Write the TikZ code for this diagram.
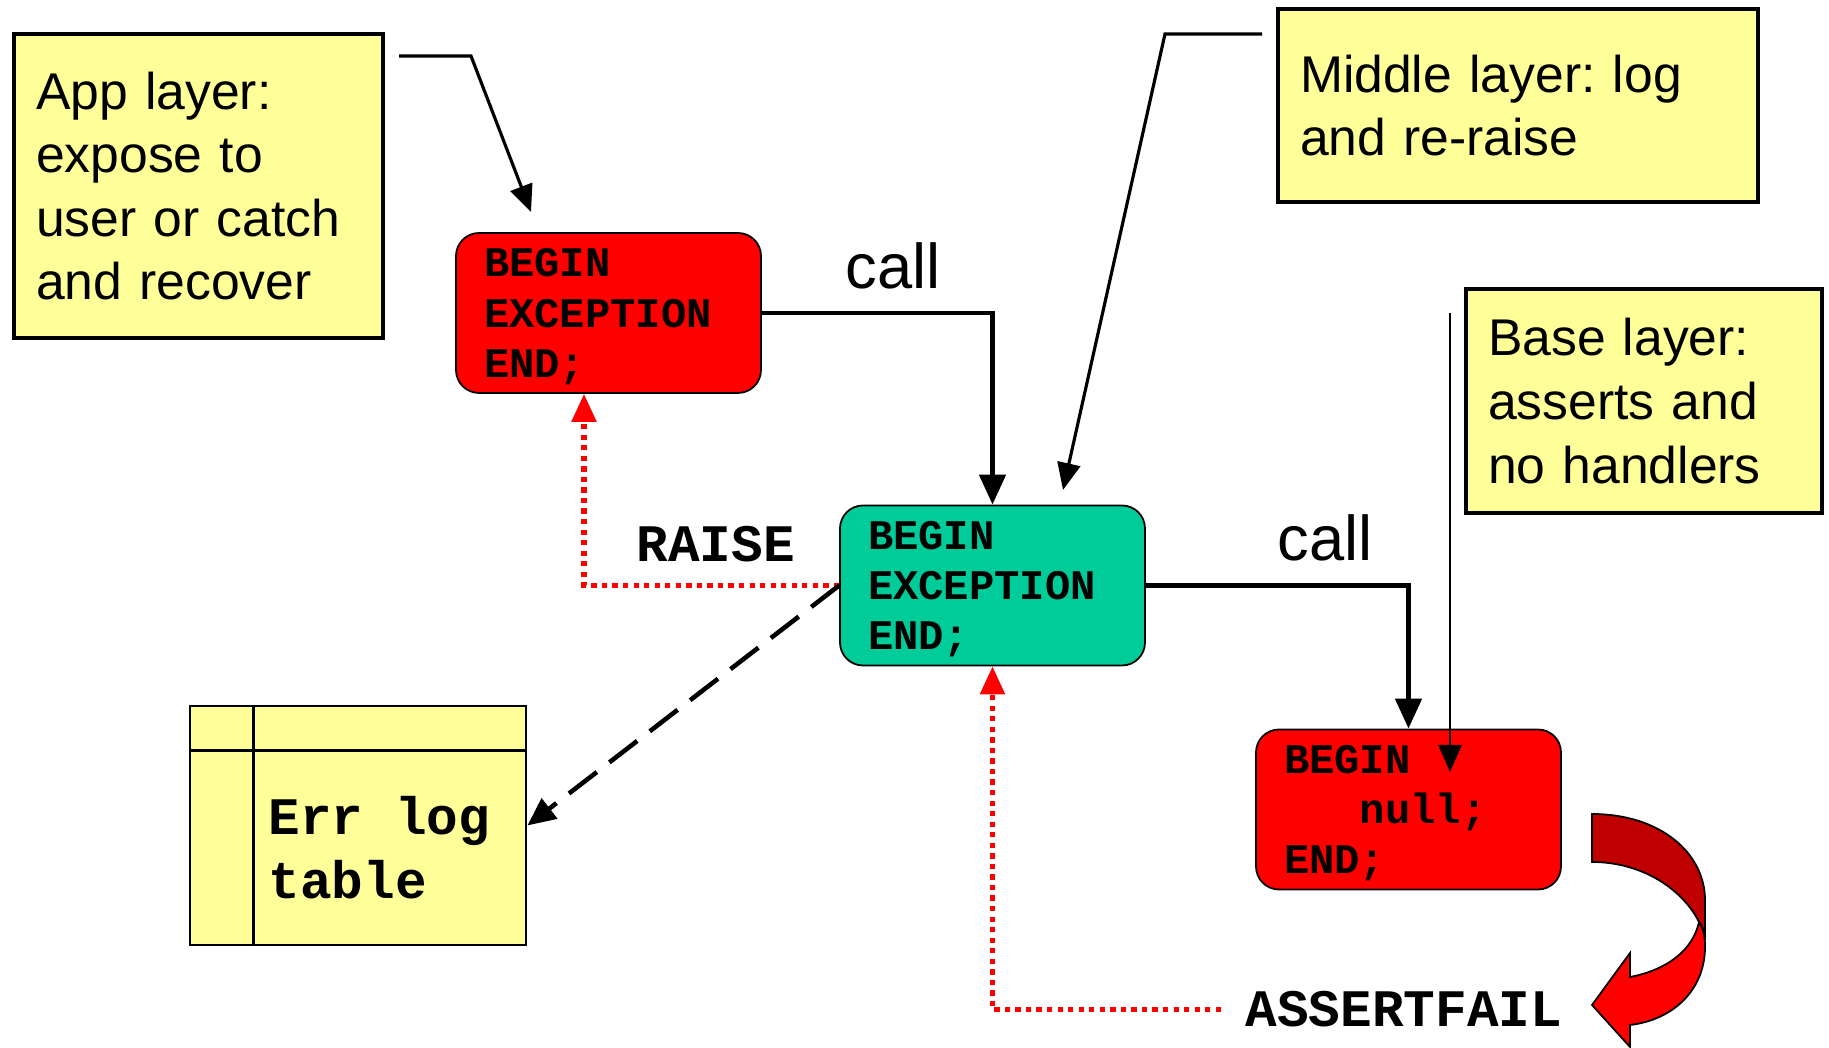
\documentclass[tikz,border=0pt]{standalone}
\usepackage{fontspec}
\setmainfont{Liberation Sans}
\setmonofont{Liberation Mono}
\usetikzlibrary{arrows.meta, calc}
\definecolor{notey}{HTML}{FFFF99}
\definecolor{codegreen}{HTML}{00CC99}
\definecolor{darkred}{HTML}{C00000}
\newcommand{\codeln}{\rule{0pt}{10.2pt}}
\frenchspacing
\tikzset{
  note/.style={draw, line width=0.9pt, fill=notey, align=left, inner xsep=0.22cm, font=\fontsize{14.7}{18.1}\selectfont},
  code/.style={draw, line width=0.5pt, rounded corners=2.3mm, fill=#1, minimum height=1.6cm, align=left, text width=2.49cm, inner xsep=0.28cm, inner ysep=0pt, font=\ttfamily\bfseries\fontsize{12}{14.3}\selectfont},
  lbl/.style={inner sep=0pt, anchor=base west, font=\ttfamily\bfseries\fontsize{15}{18.2}\selectfont},
  calllbl/.style={inner sep=0pt, anchor=base west, font=\fontsize{18}{22}\selectfont},
  callarr/.style={-{Triangle[length=3mm, width=2.6mm]}, line width=1.4pt},
  ptr/.style={-{Triangle[length=2.7mm, width=2.3mm]}, line width=0.9pt},
  raisearr/.style={-{Triangle[length=2.8mm, width=2.4mm]}, red, line width=1.5pt, dash pattern=on 1.5pt off 1.5pt},
  dasharr/.style={-{Triangle[length=2.8mm, width=2.5mm]}, line width=1.3pt, dash pattern=on 10pt off 4.5pt},
}
\begin{document}
\begin{tikzpicture}
  \useasboundingbox (0,0) rectangle (18.29,10.48);
  \node[note, text width=3.25cm, minimum height=3.04cm] (app) at (1.985,8.62) {App layer:\\expose to\\user or catch\\and recover};
  \node[note, text width=4.36cm, minimum height=1.93cm] (midnote) at (15.18,9.425) {Middle layer: log\\and re-raise};
  \node[note, text width=3.12cm, minimum height=2.24cm] (basenote) at (16.44,6.47) {Base layer:\\asserts and\\no handlers};

  \node[code=red] (apptop) at (6.085,7.35) {\codeln BEGIN\\EXCEPTION\\END;};
  \node[code=codegreen] (midblk) at (9.925,4.625) {\codeln BEGIN\\EXCEPTION\\END;};
  \node[code=red] (baseblk) at (14.085,2.385) {\codeln BEGIN\\\phantom{BEG}null;\\END;};

  \node[draw, fill=notey, line width=0.8pt, minimum width=3.36cm, minimum height=2.39cm] (errlog) at (3.58,2.225) {};
  \draw[line width=0.8pt] ($(errlog.north west)+(0,-0.46)$) -- ($(errlog.north east)+(0,-0.46)$);
  \draw[line width=0.8pt] ($(errlog.north west)+(0.65,0)$) -- ($(errlog.south west)+(0.65,0)$);
  \node[lbl, anchor=west, align=left] (errtxt) at (2.68,2.0) {Err log\\table};

  \node[lbl] (raise) at (6.36,4.86) {RAISE};
  \node[lbl] (assertfail) at (12.45,0.21) {ASSERTFAIL};
  \node[calllbl] (call1) at (8.45,7.59) {call};
  \node[calllbl] (call2) at (12.77,4.87) {call};

  \draw[callarr] (apptop.east) -| (midblk.north);
  \draw[callarr] (midblk.east) -| (baseblk.north);
  \draw[raisearr] (midblk.west) -| ([xshift=-0.245cm]apptop.south);
  \draw[raisearr] ([xshift=-0.24cm]assertfail.west) -| (midblk.south);
  \draw[dasharr] (midblk.west) -- (errlog.east);

  \coordinate (apptail) at (3.99,9.92);
  \coordinate (apphead) at (5.31,8.36);
  \draw[ptr] (apptail) -- ++(0.72,0) -- (apphead);
  \coordinate (midtail) at (12.62,10.14);
  \coordinate (midhead) at (10.63,5.58);
  \draw[ptr] (midtail) -- ++(-0.97,0) -- (midhead);
  \coordinate (basetail) at (14.50,7.35);
  \coordinate (basehead) at (14.50,2.76);
  \draw[ptr, line width=0.75pt] (basetail) -- (basehead);

  \filldraw[fill=darkred, line width=0.5pt] (15.92,2.34) .. controls (16.60,2.34) and (17.05,1.95) .. (17.05,1.48) -- (17.05,1.08)
    .. controls (17.04,1.18) and (17.02,1.22) .. (16.99,1.26) .. controls (16.83,1.58) and (16.43,1.86) .. (15.92,1.86) -- cycle;
  \filldraw[fill=red, line width=0.5pt] (16.99,1.26) .. controls (17.04,1.18) and (17.05,1.11) .. (17.05,1.01)
    .. controls (17.05,0.58) and (16.73,0.28) .. (16.30,0.23) -- (16.30,0.01) -- (15.92,0.43) -- (16.30,0.95) -- (16.30,0.71)
    .. controls (16.67,0.78) and (16.93,0.98) .. (16.99,1.26) -- cycle;
\end{tikzpicture}
\end{document}
